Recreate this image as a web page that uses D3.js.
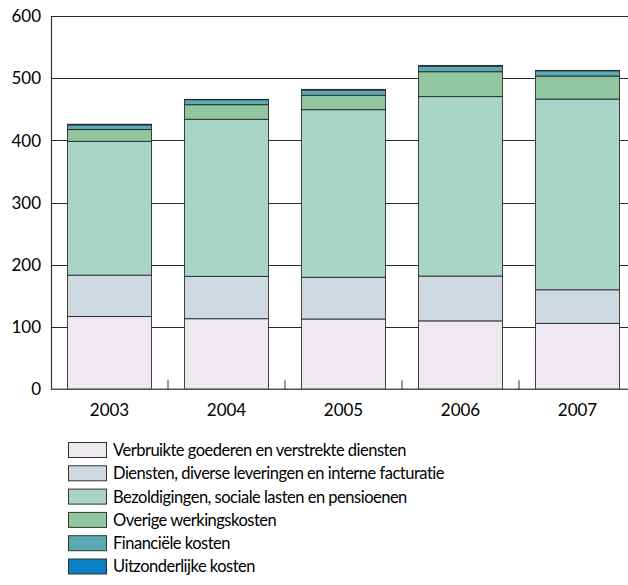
<!DOCTYPE html>
<html>
<head>
<meta charset="utf-8">
<script src="https://cdn.jsdelivr.net/npm/d3@7"></script>
<style>
  html, body { margin: 0; padding: 0; background: #fff; }
  svg { display: block; font-family: Lato, "Open Sans", sans-serif; }
</style>
</head>
<body>
<svg id="chart" width="628" height="585"></svg>
<script>
// Years on the x axis
const years = ["2003", "2004", "2005", "2006", "2007"];

// Cost categories, bottom to top of each stack
const seriesNames = [
  "Verbruikte goederen en verstrekte diensten",
  "Diensten, diverse leveringen en interne facturatie",
  "Bezoldigingen, sociale lasten en pensioenen",
  "Overige werkingskosten",
  "Financiële kosten",
  "Uitzonderlijke kosten"
];
const seriesColors = ["#efe8f1", "#cfd9e2", "#a8d5c7", "#90c79e", "#5aa9b4", "#0a80c2"];

// Values per category, one entry per year
const verbruikte     = [117, 113.5, 113, 110, 106];
const diensten       = [66.5, 68, 67, 72, 54];
const bezoldigingen  = [215, 252.5, 269.5, 288.5, 306.5];
const overige        = [19, 23.5, 23, 40, 37];
const financiele     = [7.5, 8, 8.5, 9, 8.5];
const uitzonderlijke = [1, 0.5, 1, 1, 0.5];

const yTicks = [0, 100, 200, 300, 400, 500, 600];

const seriesValues = [verbruikte, diensten, bezoldigingen, overige, financiele, uitzonderlijke];
const keys = seriesNames.map((_, i) => "s" + i);
const rows = years.map((yr, j) => {
  const r = { year: yr };
  keys.forEach((k, i) => { r[k] = seriesValues[i][j]; });
  return r;
});

const svg = d3.select("#chart");
const plotLeft = 51, plotRight = 636, plotTop = 16, plotBottom = 389.3;

const x = d3.scaleBand().domain(years).range([plotLeft, plotRight])
  .paddingInner(0.282).paddingOuter(0.141);
const y = d3.scaleLinear().domain([0, 600]).range([plotBottom, plotTop]);

// Horizontal gridlines
svg.append("g").selectAll("line")
  .data(yTicks.filter(t => t > 0))
  .join("line")
  .attr("x1", plotLeft).attr("x2", 628)
  .attr("y1", d => Math.round(y(d)) + 0.5).attr("y2", d => Math.round(y(d)) + 0.5)
  .attr("stroke", "#2a2a2a").attr("stroke-width", 1);

// Stacked bars
const stacked = d3.stack().keys(keys)(rows);
svg.append("g").selectAll("g")
  .data(stacked)
  .join("g")
  .attr("fill", (d, i) => seriesColors[i])
  .selectAll("rect")
  .data(d => d)
  .join("rect")
  .attr("x", d => x(d.data.year))
  .attr("width", x.bandwidth())
  .attr("y", d => y(d[1]))
  .attr("height", d => y(d[0]) - y(d[1]))
  .attr("stroke", "#222")
  .attr("stroke-opacity", 0.85)
  .attr("stroke-width", 1);

// Left axis line and baseline
svg.append("line").attr("x1", plotLeft + 0.5).attr("x2", plotLeft + 0.5)
  .attr("y1", plotTop).attr("y2", plotBottom + 0.5)
  .attr("stroke", "#333").attr("stroke-width", 1.2);
svg.append("line").attr("x1", plotLeft).attr("x2", 628)
  .attr("y1", plotBottom).attr("y2", plotBottom)
  .attr("stroke", "#555").attr("stroke-width", 1.5);

// Small upward ticks between the year bands
const step = x.step();
svg.append("g").selectAll("line")
  .data(years.slice(1))
  .join("line")
  .attr("x1", d => x(d) - (step - x.bandwidth()) / 2)
  .attr("x2", d => x(d) - (step - x.bandwidth()) / 2)
  .attr("y1", plotBottom).attr("y2", plotBottom - 9)
  .attr("stroke", "#333").attr("stroke-width", 1);

// Y tick labels
svg.append("g").selectAll("text")
  .data(yTicks)
  .join("text")
  .attr("x", 41)
  .attr("y", d => y(d))
  .attr("dy", "0.36em")
  .attr("text-anchor", "end")
  .attr("font-size", 17)
  .attr("fill", "#000")
  .text(d => d);

// X labels
svg.append("g").selectAll("text")
  .data(years)
  .join("text")
  .attr("x", d => x(d) + x.bandwidth() / 2)
  .attr("y", 416)
  .attr("text-anchor", "middle")
  .attr("font-size", 17)
  .attr("fill", "#000")
  .text(d => d);

// Legend
const legend = svg.append("g").selectAll("g")
  .data(seriesNames)
  .join("g")
  .attr("transform", (d, i) => `translate(68, ${442 + i * 23.3})`);
legend.append("rect")
  .attr("x", 0.5).attr("y", 0.5)
  .attr("width", 38).attr("height", 15)
  .attr("fill", (d, i) => seriesColors[i])
  .attr("stroke", "#333").attr("stroke-width", 1);
legend.append("text")
  .attr("x", 45).attr("y", 8)
  .attr("dy", "0.36em")
  .attr("font-size", 16.5)
  .attr("letter-spacing", -0.5)
  .attr("fill", "#000")
  .text(d => d);
</script>
</body>
</html>
